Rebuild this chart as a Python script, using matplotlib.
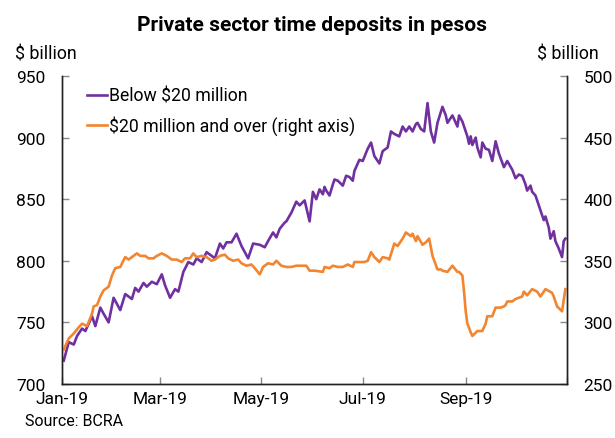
import pandas as pd
import matplotlib.pyplot as plt

## Data (days counted from 1 Jan 2019)
days_below = [1, 4, 7, 9, 12, 14, 18, 20, 23, 25, 28, 31, 35, 38, 42, 44, 46, 49, 51, 54,
              57, 60, 62, 65, 68, 70, 73, 76, 79, 81, 84, 87, 89, 92, 95, 97, 99, 102, 105, 108,
              112, 115, 119, 122, 124, 127, 129, 131, 134, 135, 138, 141, 143, 146, 149, 151, 153, 155, 157, 158,
              159, 161, 163, 164, 166, 169, 171, 173, 175, 176, 179, 181, 184, 186, 188, 191, 193, 196, 198, 200,
              203, 205, 207, 209, 211, 213, 214, 216, 218, 220, 222, 224, 226, 229, 231, 232, 235, 238, 239, 241,
              244, 245, 246, 247, 249, 250, 252, 253, 255, 257, 259, 261, 263, 266, 268, 271, 273, 275, 277, 279,
              280, 282, 283, 285, 287, 290, 291, 293, 294, 296, 297, 299, 301, 302, 303]
below_20m = [719, 734, 732, 739, 745, 743, 755, 747, 762, 757, 750, 770, 760, 773, 769, 778, 775, 782, 779, 783,
             781, 789, 780, 770, 777, 775, 791, 799, 797, 802, 799, 807, 805, 802, 814, 810, 815, 815, 822, 812,
             802, 814, 813, 811, 816, 823, 819, 826, 831, 832, 839, 848, 845, 849, 832, 856, 850, 858, 854, 860,
             857, 853, 862, 866, 865, 861, 869, 868, 865, 873, 882, 881, 891, 896, 885, 879, 889, 892, 905, 903,
             901, 909, 905, 909, 905, 911, 912, 907, 905, 928, 905, 896, 912, 925, 918, 912, 918, 909, 918, 913,
             901, 895, 901, 894, 900, 892, 884, 896, 891, 890, 881, 897, 887, 876, 881, 874, 867, 870, 869, 862,
             857, 861, 856, 853, 845, 833, 836, 827, 818, 824, 816, 810, 803, 816, 818]

days_over = [1, 4, 7, 10, 12, 15, 18, 19, 21, 23, 25, 28, 30, 32, 35, 38, 40, 43, 45, 47,
             50, 52, 55, 57, 60, 63, 66, 69, 72, 74, 77, 79, 81, 84, 87, 90, 92, 95, 98, 100,
             103, 106, 108, 111, 114, 116, 119, 121, 124, 127, 129, 132, 135, 138, 141, 144, 147, 149, 152, 157,
             158, 161, 163, 166, 169, 172, 175, 176, 179, 182, 184, 186, 188, 191, 193, 196, 197, 200, 202, 205,
             207, 210, 211, 213, 214, 217, 219, 221, 223, 226, 228, 229, 232, 235, 238, 239, 241, 242, 243, 244,
             246, 247, 250, 253, 255, 256, 259, 261, 264, 266, 267, 268, 271, 273, 275, 277, 278, 280, 283, 286,
             288, 291, 295, 296, 298, 301, 303]
over_20m = [278, 287, 291, 296, 299, 297, 307, 313, 314, 321, 326, 329, 338, 344, 345, 353, 351, 354, 356, 354,
            354, 352, 352, 354, 356, 354, 351, 351, 349, 352, 352, 356, 353, 354, 353, 350, 351, 354, 355, 352,
            350, 351, 348, 346, 347, 344, 339, 345, 348, 347, 350, 346, 345, 345, 346, 346, 346, 342, 342, 341,
            345, 344, 346, 345, 345, 347, 345, 349, 349, 349, 350, 357, 353, 349, 353, 352, 351, 364, 362, 368,
            373, 370, 372, 366, 370, 363, 365, 368, 354, 343, 343, 342, 341, 346, 341, 341, 338, 325, 309, 299,
            292, 289, 293, 293, 299, 305, 305, 312, 312, 313, 314, 317, 317, 319, 320, 321, 325, 322, 327, 325,
            321, 327, 324, 321, 313, 309, 327]

tick_months = ['2019-01-01', '2019-03-01', '2019-05-01', '2019-07-01', '2019-09-01', '2019-11-01']
tick_labels = ['Jan-19', 'Mar-19', 'May-19', 'Jul-19', 'Sep-19', '']

base = pd.Timestamp('2019-01-01')
x_below = base + pd.to_timedelta(days_below, unit='D')
x_over = base + pd.to_timedelta(days_over, unit='D')

plt.rcParams['font.family'] = ['Roboto', 'DejaVu Sans']
plt.rcParams['font.size'] = 12.7

purple = '#7030A0'
orange = '#F28530'

fig = plt.figure(figsize=(6.15, 4.39), dpi=100)
ax = fig.add_axes([0.101, 0.123, 0.821, 0.7016])
ax2 = ax.twinx()

l1, = ax.plot(x_below, below_20m, color=purple, lw=1.9, label='Below $20 million')
l2, = ax2.plot(x_over, over_20m, color=orange, lw=1.9, label='$20 million and over (right axis)')

ax.set_ylim(700, 950)
ax2.set_ylim(250, 500)
ax.set_yticks([700, 750, 800, 850, 900, 950])
ax2.set_yticks([250, 300, 350, 400, 450, 500])
ax.set_xlim(pd.Timestamp('2019-01-01'), pd.Timestamp('2019-11-01'))
ax.set_xticks(pd.to_datetime(tick_months))
ax.set_xticklabels(tick_labels)

for a in (ax, ax2):
    a.spines['top'].set_visible(False)
    for s in ('left', 'right', 'bottom'):
        a.spines[s].set_color('#222222')
        a.spines[s].set_linewidth(1)
    a.tick_params(direction='in', length=5, width=1, color='#888888', labelsize=12.5, labelcolor='black')
ax.tick_params(axis='y', pad=12)
ax2.tick_params(axis='y', pad=12)
ax.tick_params(axis='x', pad=5)

fig.text(0.508, 0.943, 'Private sector time deposits in pesos', ha='center', va='center',
         fontsize=15, fontweight='bold')
fig.text(0.024, 0.875, '$ billion', ha='left', va='center', fontsize=12.8)
fig.text(0.873, 0.875, '$ billion', ha='left', va='center', fontsize=12.8)
fig.text(0.04, 0.041, 'Source: BCRA', ha='left', va='center', fontsize=11.5)

ax2.legend([l1, l2], [l1.get_label(), l2.get_label()], loc='upper left',
           bbox_to_anchor=(0.05, 0.965), frameon=False, fontsize=12.7,
           handlelength=1.1, handletextpad=0.1, labelspacing=0.6,
           borderpad=0, borderaxespad=0)

fig.savefig('out.png', dpi=100)
